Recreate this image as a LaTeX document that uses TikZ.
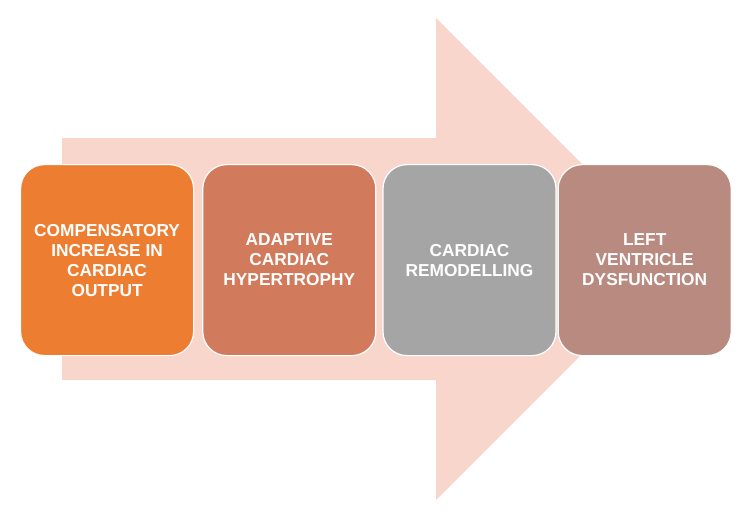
\documentclass[tikz,border=0pt]{standalone}
\usepackage{fontspec}
\setmainfont{Liberation Sans}[BoldFont={Liberation Sans Bold}]
\usepackage{tikz}
\usetikzlibrary{positioning}
\definecolor{arrowpink}{HTML}{F8D6CC}
\definecolor{stepone}{HTML}{ED7D31}
\definecolor{steptwo}{HTML}{D27A5C}
\definecolor{stepthree}{HTML}{A5A5A5}
\definecolor{stepfour}{HTML}{B98A80}
\tikzset{
  stage/.style={rectangle, rounded corners=24pt, minimum width=173pt, minimum height=191pt, inner sep=0pt, align=center, draw=white, line width=1.2pt, text=white, font=\bfseries\fontsize{17.3}{20}\selectfont},
  bigarrow/.style={fill=arrowpink}
}
\begin{document}
\begin{tikzpicture}[x=1pt, y=-1pt]
    \useasboundingbox (0,0) rectangle (747,519);

    % Flecha de fondo
    \fill [bigarrow] (62,138) -- (436,138) -- (436,18) -- (677,259) -- (436,500) -- (436,380) -- (62,380) -- cycle;

    % Etapas
    \node (comp) [stage, fill=stepone, anchor=north west] at (20,164) {COMPENSATORY\\INCREASE IN\\CARDIAC\\OUTPUT};
    \node (hyper) [stage, fill=steptwo, right=8pt of comp] {ADAPTIVE\\CARDIAC\\HYPERTROPHY};
    \node (remod) [stage, fill=stepthree, right=6pt of hyper] {CARDIAC\\REMODELLING};
    \node (dysf) [stage, fill=stepfour, right=1pt of remod] {LEFT\\VENTRICLE\\DYSFUNCTION};

\end{tikzpicture}
\end{document}
